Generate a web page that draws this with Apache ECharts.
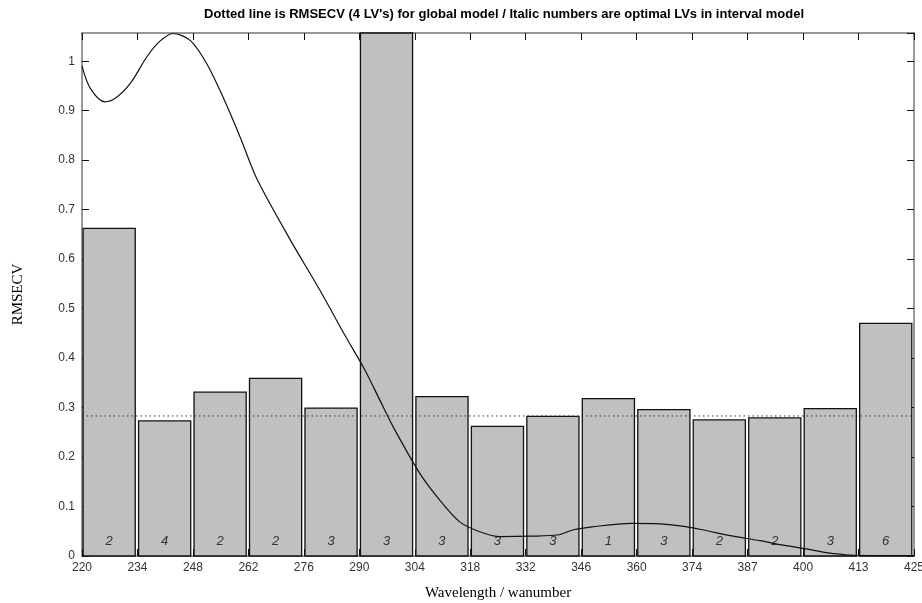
<!DOCTYPE html>
<html>
<head>
<meta charset="utf-8">
<script src="https://cdn.jsdelivr.net/npm/echarts@6/dist/echarts.min.js"></script>
<style>
  html, body { margin: 0; padding: 0; background: #fff; }
  #chart { width: 922px; height: 603px; }
</style>
</head>
<body>
<div id="chart"></div>
<script>
// interval boundaries (wavelength labels), one bar per interval
var xLabels = ["220", "234", "248", "262", "276", "290", "304", "318", "332", "346", "360", "374", "387", "400", "413", "425"];
// RMSECV of each interval model
var rmsecv = [0.662, 0.273, 0.331, 0.359, 0.299, 1.2, 0.322, 0.262, 0.282, 0.318, 0.296, 0.275, 0.279, 0.298, 0.470];
// optimal LVs in each interval model
var optLVs = [2, 4, 2, 2, 3, 3, 3, 3, 3, 1, 3, 2, 2, 3, 6];
// RMSECV of global model (4 LVs)
var globalRmsecv = 0.283;
// scaled mean spectrum (x in interval units)
var curveX = [0, 0.15, 0.41, 0.6, 0.87, 1.17, 1.4, 1.64, 1.95, 2.25, 2.54, 2.85, 3.15, 3.75, 4.29, 4.74, 5.1, 5.37, 5.61, 6.09, 6.45, 6.81, 7.17, 7.54, 8.08, 8.6, 8.86, 9.2, 9.9, 10.42, 10.78, 11.14, 11.74, 12.22, 12.64, 13.18, 13.42, 13.85, 14.4, 15];
var curveY = [0.99, 0.945, 0.918, 0.925, 0.955, 1.009, 1.04, 1.056, 1.042, 0.995, 0.928, 0.847, 0.763, 0.64, 0.537, 0.446, 0.376, 0.315, 0.261, 0.167, 0.113, 0.069, 0.049, 0.039, 0.04, 0.043, 0.053, 0.059, 0.066, 0.065, 0.061, 0.054, 0.04, 0.031, 0.022, 0.012, 0.007, 0.002, 0.001, 0.001];

var sans = "'Liberation Sans Narrow', 'Arial Narrow', 'Liberation Sans', sans-serif";
var serif = "'Liberation Serif', 'DejaVu Serif', serif";
var nBars = rmsecv.length;
var yMax = 1.057;

var myChart = echarts.init(document.getElementById("chart"));

var boxLine = { show: true, onZero: false, lineStyle: { color: "#777", width: 1.5 } };
var boxTick = { show: true, inside: true, length: 7, lineStyle: { color: "#111" } };

var option = {
  backgroundColor: "#fff",
  animation: false,
  title: {
    text: "Dotted line is RMSECV (4 LV's) for global model / Italic numbers are optimal LVs in interval model",
    left: 499,
    textAlign: "center",
    top: 3,
    textStyle: { fontFamily: sans, fontSize: 13, fontWeight: "bold", color: "#000" },
  },
  grid: { left: 82, right: 8, top: 33, bottom: 47, outerBoundsMode: "none" },
  xAxis: [
    {
      type: "value",
      min: 0,
      max: nBars,
      interval: 1,
      position: "bottom",
      name: "Wavelength / wanumber",
      nameLocation: "middle",
      nameGap: 30,
      nameTextStyle: { fontFamily: serif, fontSize: 15, color: "#000" },
      axisLine: boxLine,
      axisTick: boxTick,
      splitLine: { show: false },
      axisLabel: {
        margin: 6,
        fontFamily: sans,
        fontSize: 12,
        color: "#333",
        formatter: function (v) { return xLabels[Math.round(v)]; },
      },
    },
    {
      type: "value",
      min: 0,
      max: nBars,
      interval: 1,
      position: "top",
      axisLine: boxLine,
      axisTick: boxTick,
      axisLabel: { show: false },
      splitLine: { show: false },
    },
  ],
  yAxis: [
    {
      type: "value",
      min: 0,
      max: yMax,
      interval: 0.1,
      position: "left",
      name: "RMSECV",
      nameLocation: "middle",
      nameRotate: 90,
      nameGap: 56,
      nameTextStyle: { fontFamily: serif, fontSize: 15, color: "#000" },
      axisLine: boxLine,
      axisTick: boxTick,
      splitLine: { show: false },
      axisLabel: {
        margin: 7,
        fontFamily: sans,
        fontSize: 12,
        color: "#333",
        showMaxLabel: false,
        formatter: function (v) {
          if (v > 1.001) return "";
          return v === 0 ? "0" : v >= 0.999 ? "1" : v.toFixed(1);
        },
      },
    },
    {
      type: "value",
      min: 0,
      max: yMax,
      interval: 0.1,
      position: "right",
      axisLine: boxLine,
      axisTick: boxTick,
      axisLabel: { show: false },
      splitLine: { show: false },
    },
  ],
  series: [
    {
      type: "custom",
      xAxisIndex: 0,
      yAxisIndex: 0,
      data: rmsecv.map(function (v, i) { return [i, v, optLVs[i]]; }),
      renderItem: function (params, api) {
        var i = api.value(0);
        var p0 = api.coord([i + 0.02, api.value(1)]);
        var p1 = api.coord([i + 0.96, 0]);
        var rect = echarts.graphic.clipRectByRect(
          { x: p0[0], y: p0[1], width: p1[0] - p0[0], height: p1[1] - p0[1] },
          { x: params.coordSys.x, y: params.coordSys.y, width: params.coordSys.width, height: params.coordSys.height }
        );
        var lp = api.coord([i + 0.49, 0.03]);
        return {
          type: "group",
          children: [
            {
              type: "rect",
              shape: rect,
              style: { fill: "#c0c0c0", stroke: "#111", lineWidth: 1.3 },
            },
            {
              type: "text",
              x: lp[0],
              y: lp[1],
              style: {
                text: String(api.value(2)),
                fontFamily: "'Liberation Sans', sans-serif",
                fontStyle: "italic",
                fontSize: 13,
                fill: "#333",
                align: "center",
                verticalAlign: "middle",
              },
            },
          ],
        };
      },
      z: 1,
    },
    {
      type: "line",
      data: [[0, globalRmsecv], [nBars, globalRmsecv]],
      symbol: "none",
      lineStyle: { color: "#333", width: 1, type: [1.5, 3] },
      z: 2,
    },
    {
      type: "line",
      data: curveX.map(function (x, i) { return [x, curveY[i]]; }),
      symbol: "none",
      smooth: 0.3,
      lineStyle: { color: "#111", width: 1.2 },
      z: 3,
    },
  ],
};
myChart.setOption(option);
</script>
</body>
</html>
